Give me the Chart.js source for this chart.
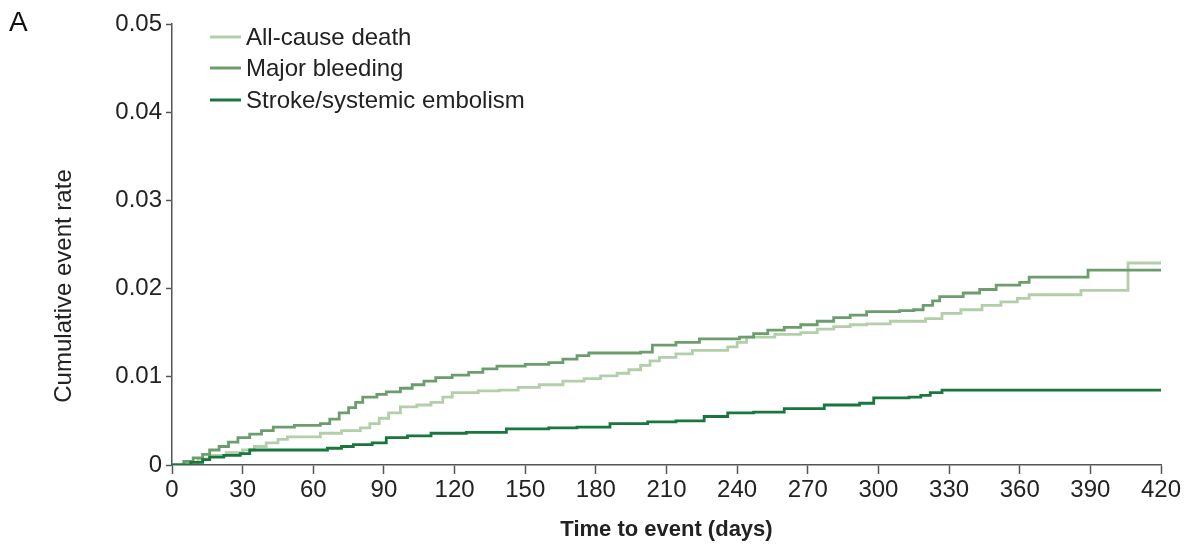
<!DOCTYPE html>
<html>
<head>
<meta charset="utf-8">
<script src="https://cdn.jsdelivr.net/npm/chart.js@4/dist/chart.umd.min.js"></script>
<style>
  html, body { margin: 0; padding: 0; background: #ffffff; }
  #wrap { position: relative; width: 1184px; height: 549px; }
</style>
</head>
<body>
<div id="wrap"><canvas id="c"></canvas></div>
<script>
// ---- Data ----
const seriesNames = ['All-cause death', 'Major bleeding', 'Stroke/systemic embolism'];
const seriesColors = ['#b3cfaa', '#6c9d6c', '#17773c'];

const xTickValues = [0, 30, 60, 90, 120, 150, 180, 210, 240, 270, 300, 330, 360, 390, 420];
const yTickLabels = ['0', '0.01', '0.02', '0.03', '0.04', '0.05'];

const deathDays  = [0, 6, 11, 16, 23, 30, 35, 40, 45, 49, 63, 72, 80, 84, 88, 92, 97, 104, 110, 115, 119, 130, 139, 147, 156, 166, 175, 182, 189, 194, 199, 203, 207, 214, 221, 236, 240, 244, 256, 267, 274, 281, 288, 295, 305, 320, 327, 335, 344, 352, 359, 364, 386, 406, 420];
const deathRates = [0, 0.0003, 0.0007, 0.0011, 0.0014, 0.0017, 0.0021, 0.0025, 0.0029, 0.0032, 0.0036, 0.0039, 0.0042, 0.0047, 0.0053, 0.0059, 0.0066, 0.0068, 0.0071, 0.0077, 0.0082, 0.0084, 0.0085, 0.0088, 0.0091, 0.0095, 0.0098, 0.0101, 0.0104, 0.0108, 0.0113, 0.0118, 0.0122, 0.0126, 0.0130, 0.0134, 0.0139, 0.0145, 0.0148, 0.0150, 0.0154, 0.0157, 0.0159, 0.0160, 0.0163, 0.0166, 0.0172, 0.0176, 0.0181, 0.0185, 0.0189, 0.0193, 0.0198, 0.0229, 0.0229];

const bleedDays  = [0, 5, 9, 13, 16, 20, 24, 28, 33, 38, 43, 52, 63, 67, 71, 75, 78, 81, 87, 91, 97, 102, 107, 112, 119, 126, 132, 138, 150, 160, 166, 172, 177, 199, 204, 214, 224, 241, 247, 253, 260, 267, 274, 281, 288, 295, 309, 315, 319, 323, 326, 336, 343, 350, 360, 364, 389, 420];
const bleedRates = [0, 0.0004, 0.0008, 0.0012, 0.0017, 0.0021, 0.0026, 0.0031, 0.0035, 0.0039, 0.0043, 0.0045, 0.0047, 0.0052, 0.0059, 0.0065, 0.0071, 0.0077, 0.0080, 0.0083, 0.0087, 0.0091, 0.0095, 0.0099, 0.0102, 0.0105, 0.0109, 0.0112, 0.0114, 0.0116, 0.0120, 0.0124, 0.0127, 0.0128, 0.0136, 0.0139, 0.0143, 0.0145, 0.0149, 0.0153, 0.0156, 0.0159, 0.0163, 0.0167, 0.0170, 0.0174, 0.0175, 0.0176, 0.0181, 0.0186, 0.0191, 0.0195, 0.0199, 0.0204, 0.0207, 0.0213, 0.0221, 0.0221];

const strokeDays  = [0, 8, 13, 16, 22, 29, 33, 63, 66, 72, 77, 85, 91, 100, 110, 125, 142, 160, 172, 186, 202, 214, 226, 236, 247, 260, 277, 292, 298, 313, 318, 322, 327, 420];
const strokeRates = [0, 0.0003, 0.0006, 0.0009, 0.0011, 0.0013, 0.0017, 0.0017, 0.0019, 0.0021, 0.0023, 0.0025, 0.0031, 0.0033, 0.0036, 0.0037, 0.0041, 0.0042, 0.0043, 0.0047, 0.0049, 0.0050, 0.0055, 0.0059, 0.0060, 0.0064, 0.0068, 0.0070, 0.0076, 0.0077, 0.0079, 0.0082, 0.0085, 0.0085];

const panelLabel = 'A';
const xTitle = 'Time to event (days)';
const yTitle = 'Cumulative event rate';

// ---- Build ----
function pts(days, rates) { return days.map((d, i) => ({ x: d, y: rates[i] })); }

const FONT = '"Liberation Sans", Arial, sans-serif';
Chart.defaults.font.family = FONT;
Chart.defaults.color = '#222';

const decor = {
  id: 'decor',
  afterDraw(chart) {
    const ctx = chart.ctx;
    const area = chart.chartArea;
    ctx.save();
    // Panel label
    ctx.fillStyle = '#111';
    ctx.font = '28px ' + FONT;
    ctx.textAlign = 'left';
    ctx.textBaseline = 'middle';
    ctx.fillText(panelLabel, 9, 23);
    // Legend
    const rowsY = [37, 68, 100];
    ctx.font = '24px ' + FONT;
    chart.data.datasets.forEach((ds, i) => {
      ctx.strokeStyle = ds.borderColor;
      ctx.lineWidth = 3;
      ctx.beginPath();
      ctx.moveTo(210, rowsY[i]);
      ctx.lineTo(241, rowsY[i]);
      ctx.stroke();
      ctx.fillStyle = '#222';
      ctx.fillText(ds.label, 246, rowsY[i] + 1);
    });
    // Y title
    ctx.save();
    ctx.translate(64, 286);
    ctx.rotate(-Math.PI / 2);
    ctx.textAlign = 'center';
    ctx.textBaseline = 'middle';
    ctx.font = '24px ' + FONT;
    ctx.fillStyle = '#222';
    ctx.fillText(yTitle, 0, 0);
    ctx.restore();
    // X title
    ctx.textAlign = 'center';
    ctx.textBaseline = 'middle';
    ctx.font = 'bold 22px ' + FONT;
    ctx.fillStyle = '#222';
    ctx.fillText(xTitle, (area.left + area.right) / 2, 530);
    ctx.restore();
  }
};

new Chart(document.getElementById('c'), {
  type: 'line',
  data: {
    datasets: [
      { label: seriesNames[0], data: pts(deathDays, deathRates), borderColor: seriesColors[0], order: 3 },
      { label: seriesNames[1], data: pts(bleedDays, bleedRates), borderColor: seriesColors[1], order: 2 },
      { label: seriesNames[2], data: pts(strokeDays, strokeRates), borderColor: seriesColors[2], order: 1 }
    ]
  },
  options: {
    responsive: true,
    maintainAspectRatio: false,
    animation: false,
    layout: { padding: { left: 0, top: 24, right: 23, bottom: 0 } },
    elements: {
      point: { radius: 0, hoverRadius: 0 },
      line: { borderWidth: 2.8, stepped: 'before', tension: 0, fill: false }
    },
    plugins: { legend: { display: false }, tooltip: { enabled: false } },
    scales: {
      x: {
        type: 'linear',
        min: 0, max: 420,
        afterFit(s) { s.height = 84; },
        afterBuildTicks(s) { s.ticks = xTickValues.map(v => ({ value: v })); },
        ticks: { font: { size: 24 }, color: '#222', padding: 2, maxRotation: 0, autoSkip: false },
        grid: { drawOnChartArea: false, drawTicks: true, tickLength: 9, color: '#555', tickWidth: 1.5 },
        border: { display: true, color: '#555', width: 1.5 }
      },
      y: {
        type: 'linear',
        min: 0, max: 0.05,
        afterFit(s) { s.width = 172; },
        afterBuildTicks(s) { s.ticks = yTickLabels.map((t, i) => ({ value: i * 0.01 })); },
        ticks: {
          font: { size: 24 }, color: '#222', padding: 4,
          callback: (v, i) => yTickLabels[i]
        },
        grid: { drawOnChartArea: false, drawTicks: true, tickLength: 6, color: '#555', tickWidth: 1.5 },
        border: { display: true, color: '#555', width: 1.5 }
      }
    }
  },
  plugins: [decor]
});
</script>
</body>
</html>
